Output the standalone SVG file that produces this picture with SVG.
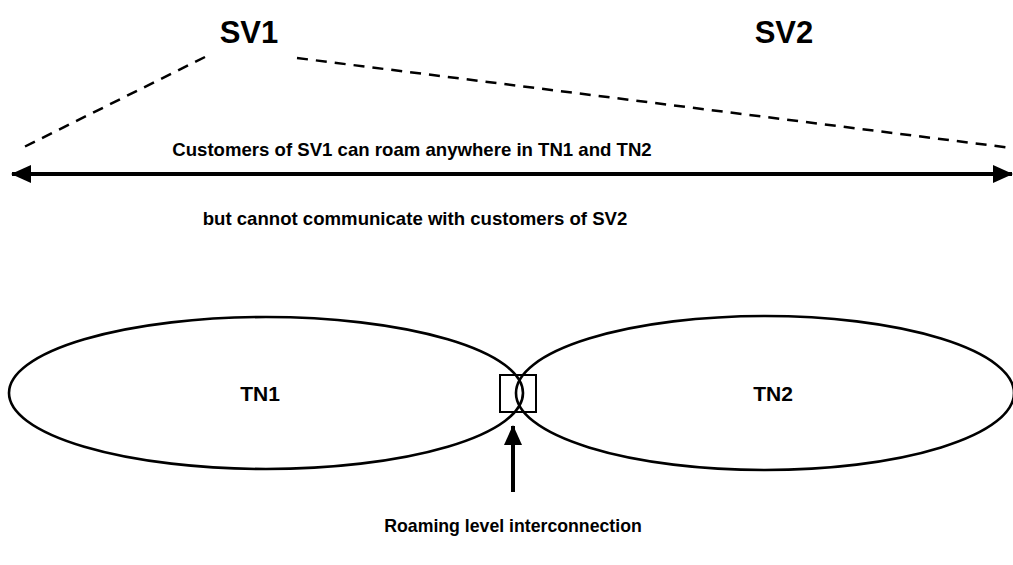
<svg xmlns="http://www.w3.org/2000/svg" width="1013" height="565" viewBox="0 0 1013 565">
<defs>
<style>
text{font-family:"Liberation Sans",Arial,sans-serif;font-weight:bold;fill:#000;text-anchor:middle}
.t{font-size:18.6px}
.r{font-size:17.7px}
.tn{font-size:21px}
.big{font-size:31px}
.ln{stroke:#000;fill:none;stroke-width:2.6}
.box{stroke:#000;fill:none;stroke-width:2}
.arr{stroke:#000;fill:none;stroke-width:4}
.dash{stroke:#000;fill:none;stroke-width:2.5;stroke-dasharray:11 8}
</style>
<marker id="ah" viewBox="0 0 20 18" refX="19" refY="9" markerWidth="20" markerHeight="18" markerUnits="userSpaceOnUse" orient="auto-start-reverse">
<path d="M0,0 L20,9 L0,18 Z" fill="#000"/>
</marker>
</defs>
<rect width="1013" height="565" fill="#fff"/>
<g id="sv1"><text class="big" x="249" y="43">SV1</text></g>
<g id="sv2"><text class="big" x="784" y="43">SV2</text></g>
<g id="tn1"><ellipse class="ln" cx="266" cy="393" rx="257" ry="76"/><text class="tn" x="260" y="401">TN1</text></g>
<g id="tn2"><ellipse class="ln" cx="765" cy="393" rx="249" ry="77"/><text class="tn" x="773" y="401">TN2</text></g>
<g id="interconnect"><rect class="box" x="500" y="375" width="36" height="37"/></g>
<g id="labels">
<text class="t" x="412" y="156">Customers of SV1 can roam anywhere in TN1 and TN2</text>
<text class="t" x="415" y="225">but cannot communicate with customers of SV2</text>
<text class="r" x="513" y="532">Roaming level interconnection</text>
</g>
<g id="connectors">
<line class="dash" x1="205" y1="57" x2="18" y2="150"/>
<line class="dash" x1="297" y1="58" x2="1012" y2="148"/>
<line class="arr" x1="12" y1="174" x2="1012" y2="174" marker-start="url(#ah)" marker-end="url(#ah)"/>
<line class="arr" x1="513" y1="492" x2="513" y2="426" marker-end="url(#ah)"/>
</g>
</svg>
